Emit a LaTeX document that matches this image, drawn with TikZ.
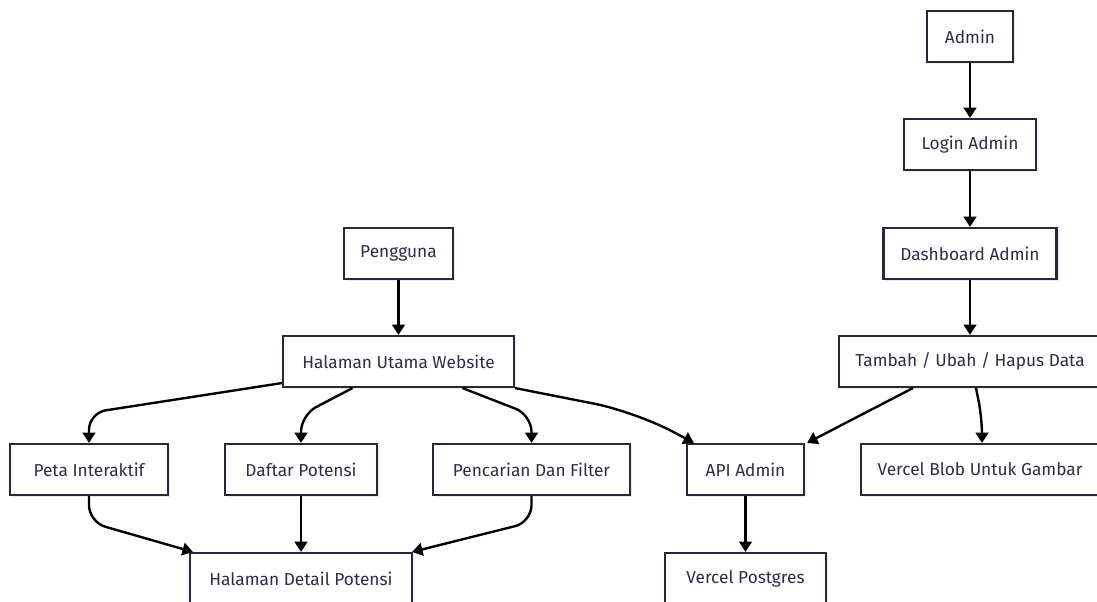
\documentclass[tikz,border=0pt]{standalone}
\usepackage{fontspec}
\setmainfont{Fira Sans}
\usetikzlibrary{arrows.meta,calc,shadows}
\definecolor{boxline}{RGB}{40,40,60}
\definecolor{boxtext}{RGB}{45,45,70}
\begin{document}
\begin{tikzpicture}[x = 0.025cm, y = -0.025cm,
  box/.style = {draw = boxline, fill = white, line width = 1.5pt, text = boxtext,
    minimum height = 1.275cm, inner sep = 0pt, font = \fontsize{12.3}{14}\selectfont,
    drop shadow = {shadow xshift = 0.06cm, shadow yshift = -0.06cm, fill = black, opacity = 0.08}},
  arr/.style = {draw = black, line width = 1.7pt, -{Triangle[length = 0.26cm, width = 0.32cm]}},
  bendarr/.style = {arr, rounded corners = 12pt}]
\useasboundingbox (0,0) rectangle (1097,602);
% admin side
\node[box, minimum width = 2.15cm] (admin) at (970,36.5) {Admin};
\node[box, minimum width = 3.3cm] (login) at (970,144.5) {Login Admin};
\node[box, minimum width = 4.325cm] (dash) at (970,253.5) {Dashboard Admin};
\node[box, minimum width = 6.55cm] (tambah) at (970,361.5) {Tambah / Ubah / Hapus Data};
\node[box, minimum width = 5.95cm] (blob) at (980,469.5) {Vercel Blob Untuk Gambar};
\node[box, minimum width = 2.925cm] (api) at (745.5,469.5) {API Admin};
\node[box, minimum width = 4.025cm] (postgres) at (745.5,578.5) {Vercel Postgres};
% user side
\node[box, minimum width = 2.725cm] (user) at (398.5,253.5) {Pengguna};
\node[box, minimum width = 5.775cm] (home) at (398.5,361.5) {Halaman Utama Website};
\node[box, minimum width = 3.95cm] (peta) at (89,469.5) {Peta Interaktif};
\node[box, minimum width = 3.8cm] (daftar) at (301,469.5) {Daftar Potensi};
\node[box, minimum width = 4.925cm] (cari) at (531.5,469.5) {Pencarian Dan Filter};
\node[box, minimum width = 5.55cm] (detail) at (301,578.5) {Halaman Detail Potensi};
% edges
\draw[arr] (admin.south) -- (login.north);
\draw[arr] (login.south) -- (dash.north);
\draw[arr] (dash.south) -- (tambah.north);
\draw[arr] (user.south) -- (home.north);
\draw[bendarr] ($(home.south west)+(0,-5)$) -- ($(peta.north)+(0,-30)$) -- (peta.north);
\draw[bendarr] ($(home.south)+(-46,0)$) -- ($(daftar.north)+(0,-28)$) -- (daftar.north);
\draw[bendarr] ($(home.south)+(64,0)$) -- ($(cari.north)+(0,-28)$) -- (cari.north);
\draw[arr, rounded corners = 30pt] (home.south east) -- ($(api.north west)+(-50,-31)$) -- ($(api.north west)+(8,0)$);
\draw[arr] ($(tambah.south west)+(75,0)$) -- ($(api.north east)+(2,0)$);
\draw[bendarr] ($(tambah.south)+(6,0)$) -- ($(blob.north)+(2,-25)$) -- ($(blob.north)+(2,0)$);
\draw[bendarr] (peta.south) -- ($(peta.south)+(0,26)$) -- ($(detail.north west)+(4,0)$);
\draw[arr] (daftar.south) -- (detail.north);
\draw[bendarr] (cari.south) -- ($(cari.south)+(0,26)$) -- ($(detail.north east)+(-1,0)$);
\draw[arr] (api.south) -- (postgres.north);
\end{tikzpicture}
\end{document}
